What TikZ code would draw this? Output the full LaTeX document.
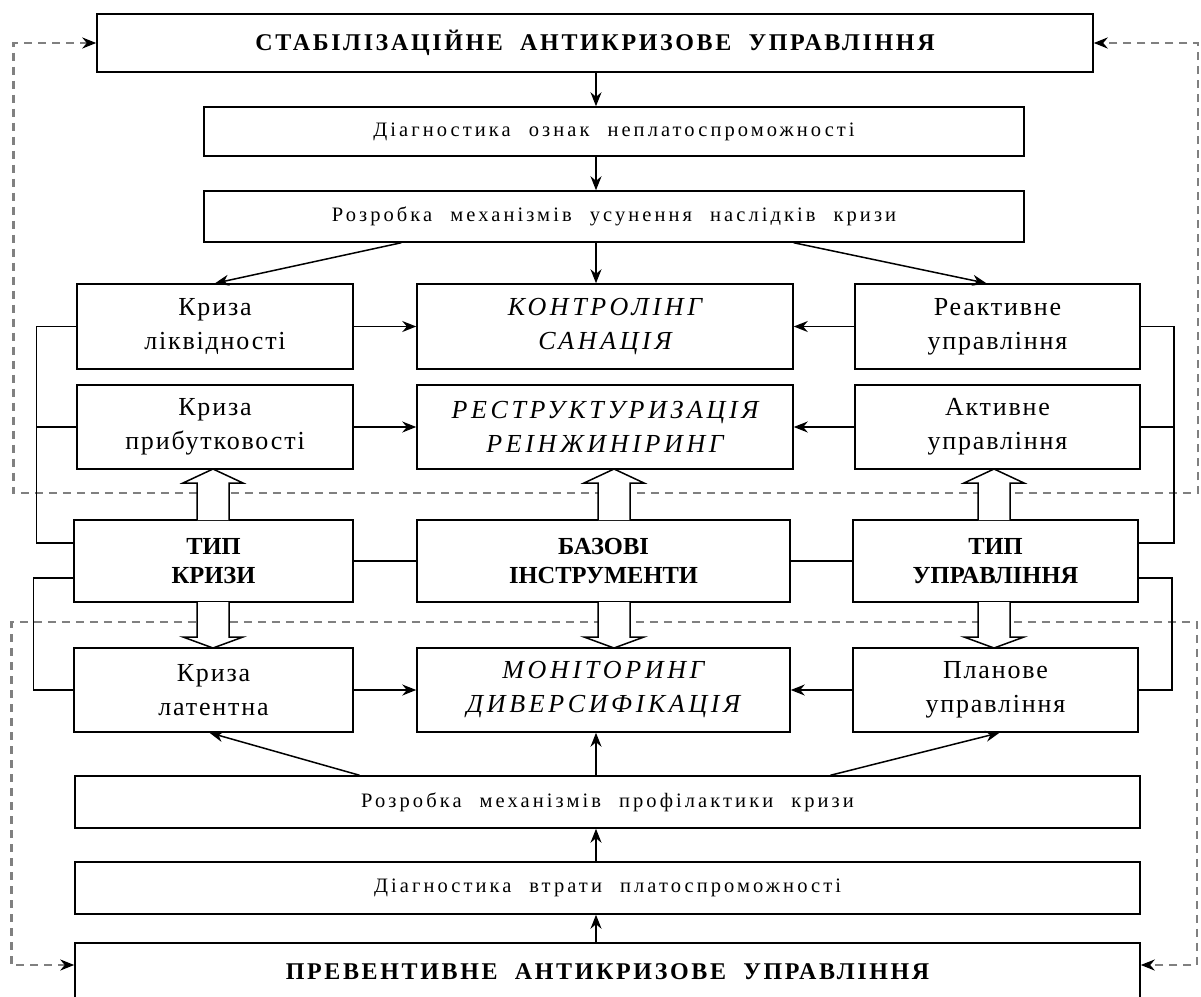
\documentclass[tikz,border=0pt]{standalone}
\usepackage{fontspec}
\setmainfont{Liberation Serif}
\newfontfamily\shyrokyj[LetterSpace=15,WordSpace=2.2]{Liberation Serif}
\newfontfamily\holovnyj[LetterSpace=11,WordSpace=2]{Liberation Serif}
\newfontfamily\zvychajnyj[LetterSpace=7]{Liberation Serif}
\newfontfamily\kursyv[LetterSpace=14]{Liberation Serif}
\usetikzlibrary{arrows.meta}
\tikzset{
  blok/.style={draw, line width=1.5pt, inner sep=0pt, align=center},
  nazva/.style={blok, font=\holovnyj\bfseries\fontsize{24}{28}\selectfont},
  etap/.style={blok, font=\shyrokyj\fontsize{20.5}{24}\selectfont},
  kryza/.style={blok, font=\zvychajnyj\fontsize{26}{34}\selectfont},
  instr/.style={blok, font=\kursyv\itshape\fontsize{26}{34}\selectfont},
  typ/.style={blok, font=\bfseries\fontsize{24.5}{29}\selectfont},
  strz/.style={-{Stealth[length=14pt,width=11pt]}, line width=1.5pt},
  linia/.style={line width=1.5pt},
  przer/.style={{Stealth[length=14pt,width=11pt,black]}-{Stealth[length=14pt,width=11pt,black]},
    gray, line width=2.6pt, dash pattern=on 8pt off 6pt},
  pusta/.style={line width=1.5pt, fill=white}
}
\begin{document}
\begin{tikzpicture}[x=1pt, y=-1pt]
\useasboundingbox (0,0) rectangle (1201,996);
% Bloki
\node[nazva, minimum width=996, minimum height=58] (stab) at (595,43) {СТАБІЛІЗАЦІЙНЕ АНТИКРИЗОВЕ УПРАВЛІННЯ};
\node[etap, minimum width=820, minimum height=49] (diag1) at (614,131.5) {Діагностика ознак неплатоспроможності};
\node[etap, minimum width=820, minimum height=51] (rozr1) at (614,216.5) {Розробка механізмів усунення наслідків кризи};

\node[kryza, minimum width=276, minimum height=85] (likv) at (215,326.5) {Криза\\ліквідності};
\node[instr, minimum width=376, minimum height=85] (kontr) at (605,326.5) {КОНТРОЛІНГ\\САНАЦІЯ};
\node[kryza, minimum width=285, minimum height=85] (reakt) at (997.5,326.5) {Реактивне\\управління};

\node[kryza, minimum width=276, minimum height=84] (prybut) at (215,427) {Криза\\прибутковості};
\node[instr, minimum width=376, minimum height=84] (restr) at (605,427) {РЕСТРУКТУРИЗАЦІЯ\\РЕІНЖИНІРИНГ};
\node[kryza, minimum width=285, minimum height=84] (aktyv) at (997.5,427) {Активне\\управління};

\node[typ, minimum width=279, minimum height=82] (typk) at (213.5,561) {ТИП\\КРИЗИ};
\node[typ, minimum width=373, minimum height=82] (baza) at (603.5,561) {БАЗОВІ\\ІНСТРУМЕНТИ};
\node[typ, minimum width=285, minimum height=82] (typu) at (995.5,561) {ТИП\\УПРАВЛІННЯ};

\node[kryza, minimum width=279, minimum height=84] (latent) at (213.5,690) {Криза\\латентна};
\node[instr, minimum width=373, minimum height=84] (monit) at (603.5,690) {МОНІТОРИНГ\\ДИВЕРСИФІКАЦІЯ};
\node[kryza, minimum width=285, minimum height=84] (plan) at (995.5,690) {Планове\\управління};

\node[etap, minimum width=1065, minimum height=52] (rozr2) at (607.5,802) {Розробка механізмів профілактики кризи};
\node[etap, minimum width=1065, minimum height=52] (diag2) at (607.5,888) {Діагностика втрати платоспроможності};
\node[nazva, minimum width=1065, minimum height=58] (prev) at (607.5,972) {ПРЕВЕНТИВНЕ АНТИКРИЗОВЕ УПРАВЛІННЯ};
\coordinate (os) at (596,0);
\coordinate (rog1) at (1198,493);
\coordinate (rog2) at (1197,622);

% Zvorotni zv'iazky
\draw[przer] (stab.west) -- ++(-83,0) |- (rog1) |- (stab.east);
\draw[przer] ([yshift=7pt]prev.west) -- ++(-63,0) |- (rog2) |- ([yshift=7pt]prev.east);

% Strilky vhori
\draw[strz] (stab.south -| os) -- (diag1.north -| os);
\draw[strz] (diag1.south -| os) -- (rozr1.north -| os);
\draw[strz] (rozr1.south -| os) -- (kontr.north -| os);
\draw[strz] ([xshift=-15pt]rozr1.south -| kontr.west) -- (likv.north);
\draw[strz] (rozr1.south -| kontr.east) -- ([xshift=-11pt]reakt.north);

% Riadky
\draw[strz] (likv.east) -- (kontr.west);
\draw[strz] (reakt.west) -- (kontr.east);
\draw[strz] (prybut.east) -- (restr.west);
\draw[strz] (aktyv.west) -- (restr.east);
\draw[linia] (typk.east) -- (baza.west);
\draw[linia] (baza.east) -- (typu.west);
\draw[strz] (latent.east) -- (monit.west);
\draw[strz] (plan.west) -- (monit.east);

% Boky
\draw[linia] (likv.west) -- ++(-40,0) coordinate (liva) |- ([yshift=18pt]typk.west);
\draw[linia] (prybut.west) -- (prybut.west -| liva);
\draw[linia] ([yshift=-17pt]typk.west) -- ++(-40,0) |- (latent.west);
\draw[linia] (reakt.east) -- ++(33,0) coordinate (prava) |- ([yshift=18pt]typu.east);
\draw[linia] (aktyv.east) -- (aktyv.east -| prava);
\draw[linia] ([yshift=-17pt]typu.east) -- ++(33,0) |- (plan.east);

% Strilky vnyzu
\draw[strz] (prev.north -| os) -- (diag2.south -| os);
\draw[strz] (diag2.north -| os) -- (rozr2.south -| os);
\draw[strz] (rozr2.north -| os) -- (monit.south -| os);
\draw[strz] ([xshift=-248pt]rozr2.north) -- ([xshift=-4pt]latent.south);
\draw[strz] ([xshift=223pt]rozr2.north) -- ([xshift=4pt]plan.south);

% Porozhni strilky
\foreach \xc in {213,614,994} {
  \draw[pusta] (\xc-16,520) -- (\xc-16,483) -- (\xc-30,483) -- (\xc,469) -- (\xc+30,483) -- (\xc+16,483) -- (\xc+16,520);
  \draw[pusta] (\xc-16,602) -- (\xc-16,637) -- (\xc-30,637) -- (\xc,648) -- (\xc+30,637) -- (\xc+16,637) -- (\xc+16,602);
}
\end{tikzpicture}
\end{document}
